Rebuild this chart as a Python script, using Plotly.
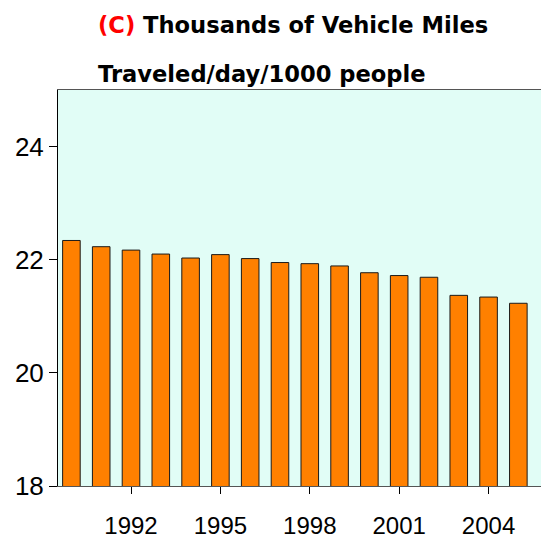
import plotly.graph_objects as go

years = list(range(1990, 2006))
vmt = [22.34, 22.23, 22.17, 22.10, 22.03, 22.09, 22.02, 21.95,
       21.93, 21.89, 21.77, 21.72, 21.69, 21.37, 21.34, 21.23]
tick_years = [1992, 1995, 1998, 2001, 2004]
y_ticks = [18, 20, 22, 24]
title_tag = "(C)"
title_line1 = "Thousands of Vehicle Miles"
title_line2 = "Traveled/day/1000 people"

fig = go.Figure()
fig.add_trace(go.Bar(
    x=years, y=vmt, width=0.59,
    marker=dict(color="#FF8000", line=dict(color="#1A1A1A", width=1)),
    showlegend=False,
))

title_font = dict(family="DejaVu Sans, sans-serif", size=22.6, color="#000000")
fig.add_annotation(
    xref="paper", yref="paper", x=0.0787, y=1.165, xanchor="left", yanchor="middle",
    text=f"<b><span style='color:#FF0000'>{title_tag}</span> {title_line1}</b>",
    showarrow=False, font=title_font,
)
fig.add_annotation(
    xref="paper", yref="paper", x=0.0787, y=1.040, xanchor="left", yanchor="middle",
    text=f"<b>{title_line2}</b>",
    showarrow=False, font=title_font,
)

fig.update_layout(
    width=541, height=538,
    margin=dict(l=58, r=0, t=90, b=52),
    paper_bgcolor="#FFFFFF",
    plot_bgcolor="#E1FDF6",
    bargap=0.41,
    xaxis=dict(
        range=[1989.55, 2005.76], tickvals=tick_years, ticktext=[str(t) for t in tick_years],
        ticks="outside", ticklen=7, tickcolor="#000000", tickwidth=1,
        showline=True, linecolor="#555555", linewidth=1, mirror=True,
        showgrid=False, zeroline=False, automargin=False,
        tickfont=dict(family="Liberation Sans, Arial, sans-serif", size=24, color="#000000"),
        ticklabelstandoff=11,
    ),
    yaxis=dict(
        range=[18, 25], tickvals=y_ticks,
        ticks="outside", ticklen=8, tickcolor="#000000", tickwidth=1,
        showline=True, linecolor="#000000", linewidth=1,
        showgrid=False, zeroline=False, automargin=False,
        tickfont=dict(family="Liberation Sans, Arial, sans-serif", size=26, color="#000000"),
    ),
)

fig.write_html(
    "out.html",
    config={"displayModeBar": False},
    post_script="document.body.style.margin='0px';document.documentElement.style.overflow='hidden';",
)
